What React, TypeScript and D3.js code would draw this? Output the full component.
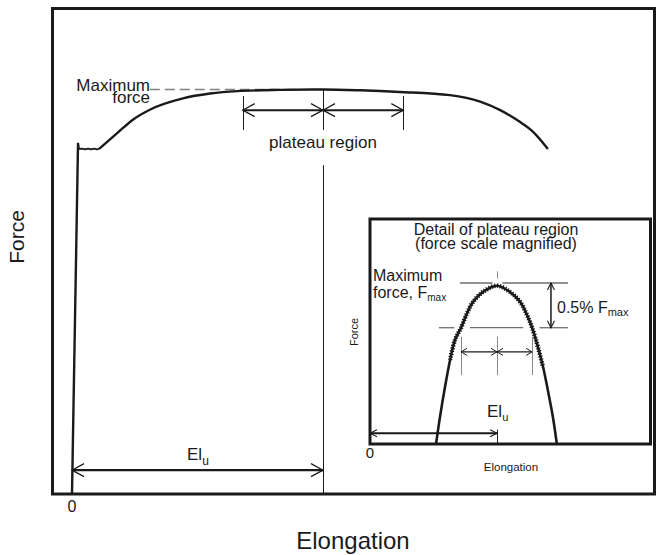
import React from 'react';
import * as d3 from 'd3';

// ---------- main diagram data (elongation units, force % of Fmax) ----------
const elasticLine: [number, number][] = [[0, 0], [1.2, 86.8]];
const yieldSerration: [number, number][] = [
  [1.2, 86.8], [1.4, 85.3], [2.0, 85.4], [2.6, 85.2], [3.2, 85.4],
  [3.8, 85.2], [4.4, 85.4], [5.0, 85.2], [5.4, 85.3],
];
const hardeningCurve: [number, number][] = [
  [5.4, 85.3], [9.0, 89.2], [12.2, 92.6], [15.5, 95.0], [22.1, 97.8],
  [27.5, 99.0], [32.9, 99.6], [41.4, 99.9], [50, 100], [57.4, 99.8],
  [65.3, 99.4], [75.3, 98.6], [81.3, 97.0], [85.3, 94.9], [89.2, 92.0],
  [91.8, 89.6], [94.8, 85.3],
];
const maxForce = 100;
const dashedMaxSpan: [number, number] = [15.5, 45];
const elongationAtMax = 50;
const plateauBounds: [number, number] = [34, 66];
const plateauTickForce: [number, number] = [98.4, 90.0];
const plateauArrowForce = 94.9;
const elULineTop = 81.3;
const elUArrowForce = 5.9;

// ---------- inset (detail) data ----------
const detailCurve: [number, number][] = [
  [23.5, 98.2], [24.9, 98.5], [26.7, 98.84], [28.5, 99.14], [30.2, 99.36],
  [32.4, 99.5], [34.5, 99.66], [36.7, 99.79], [40.2, 99.9], [45.2, 99.97],
  [49.8, 99.9], [53.4, 99.79], [55.9, 99.64], [57.7, 99.5], [59.8, 99.28],
  [61.6, 99.06], [63.3, 98.8], [65.1, 98.5], [66.5, 98.2],
];
const detailNoisyPart: [number, number][] = [
  [28.5, 99.14], [30.2, 99.36], [32.4, 99.5], [34.5, 99.66], [36.7, 99.79],
  [40.2, 99.9], [45.2, 99.97], [49.8, 99.9], [53.4, 99.79], [55.9, 99.64],
  [57.7, 99.5], [59.8, 99.28], [61.6, 99.06],
];
const detailElU = 45.2;
const detailFmax = 100;
const detailHalfPct = 99.5;
const detailBand: [number, number] = [32.4, 57.7];
const fmaxLineSegs: [number, number][] = [[32, 43.6], [47.1, 70.5]];
const halfLineSegs: [number, number][] = [[24.5, 30.0], [35.6, 54.5], [60.3, 70.5]];
const bandLineForce: [number, number] = [99.4, 98.97];
const bandArrowForce = 99.23;
const peakTickForce: [number, number] = [100.13, 100.05];
const elUTickForce: [number, number] = [98.36, 98.2];
const detailElUArrowForce = 98.32;
const dimArrowX = 64.4;

const FONT = '"Liberation Sans", Arial, Helvetica, sans-serif';
const INK = '#1a1a1a';

function arrow(x1: number, y1: number, x2: number, y2: number, len: number, half: number) {
  const dx = x2 - x1, dy = y2 - y1;
  const L = Math.hypot(dx, dy);
  const ux = dx / L, uy = dy / L;
  const px = -uy, py = ux;
  const head = (tx: number, ty: number, sx: number, sy: number) =>
    `M${tx + sx * len + px * half},${ty + sy * len + py * half}L${tx},${ty}L${tx + sx * len - px * half},${ty + sy * len - py * half}`;
  return {
    line: `M${x1},${y1}L${x2},${y2}`,
    heads: head(x1, y1, ux, uy) + head(x2, y2, -ux, -uy),
  };
}

function Arrow({ a, w, hw }: { a: { line: string; heads: string }; w: number; hw: number }) {
  return (
    <g fill="none" stroke={INK}>
      <path d={a.line} strokeWidth={w} />
      <path d={a.heads} strokeWidth={hw} />
    </g>
  );
}

export default function App() {
  const x = d3.scaleLinear().domain([0, 100]).range([72, 574]);
  const y = d3.scaleLinear().domain([0, 100]).range([494, 89.5]);
  const ix = d3.scaleLinear().domain([0, 100]).range([370, 651]);
  const iy = d3.scaleLinear().domain([98.2, 100]).range([444, 283]);

  const lin = d3.line<[number, number]>().x(d => x(d[0])).y(d => y(d[1]));
  const smooth = d3.line<[number, number]>().x(d => x(d[0])).y(d => y(d[1])).curve(d3.curveMonotoneX);
  const iSmooth = d3.line<[number, number]>().x(d => ix(d[0])).y(d => iy(d[1])).curve(d3.curveCatmullRom);

  const plA1 = arrow(x(plateauBounds[0]), y(plateauArrowForce), x(elongationAtMax), y(plateauArrowForce), 12, 6.5);
  const plA2 = arrow(x(elongationAtMax), y(plateauArrowForce), x(plateauBounds[1]), y(plateauArrowForce), 12, 6.5);
  const elA = arrow(x(0), y(elUArrowForce), x(elongationAtMax), y(elUArrowForce), 12, 6.5);

  const bA1 = arrow(ix(detailBand[0]), iy(bandArrowForce), ix(detailElU), iy(bandArrowForce), 6, 3.5);
  const bA2 = arrow(ix(detailElU), iy(bandArrowForce), ix(detailBand[1]), iy(bandArrowForce), 6, 3.5);
  const vA = arrow(ix(dimArrowX), iy(detailFmax), ix(dimArrowX), iy(detailHalfPct), 7, 3.5);
  const ieA = arrow(ix(0), iy(detailElUArrowForce), ix(detailElU), iy(detailElUArrowForce), 7, 3.5);

  const vx = (v: number) => Math.round(x(v)) + 0.5;
  const ivx = (v: number) => Math.round(ix(v)) + 0.5;

  return (
    <svg width={656} height={555} style={{ position: 'absolute', left: 0, top: 0, background: '#fff' }}
      fontFamily={FONT}>
      {/* main frame */}
      <rect x={52.5} y={8.5} width={602} height={485.5} fill="#fff" stroke={INK} strokeWidth={3} />

      {/* dashed maximum force line */}
      <line x1={x(dashedMaxSpan[0])} x2={x(dashedMaxSpan[1])} y1={y(maxForce)} y2={y(maxForce)}
        stroke="#808080" strokeWidth={1.6} strokeDasharray="10,5" />

      {/* force-elongation curve */}
      <g fill="none" stroke={INK} strokeWidth={2.4} strokeLinejoin="round">
        <path d={lin(elasticLine) || ''} />
        <path d={lin(yieldSerration) || ''} strokeWidth={1.8} />
        <path d={smooth(hardeningCurve) || ''} />
      </g>

      {/* plateau ticks and arrows */}
      <g stroke={INK} strokeWidth={1}>
        <line x1={vx(plateauBounds[0])} x2={vx(plateauBounds[0])} y1={y(plateauTickForce[0])} y2={y(plateauTickForce[1])} />
        <line x1={vx(plateauBounds[1])} x2={vx(plateauBounds[1])} y1={y(plateauTickForce[0])} y2={y(plateauTickForce[1])} />
        <line x1={vx(elongationAtMax)} x2={vx(elongationAtMax)} y1={y(maxForce)} y2={y(plateauTickForce[1])} />
        <line x1={vx(elongationAtMax)} x2={vx(elongationAtMax)} y1={y(elULineTop)} y2={y(0)} />
      </g>
      <Arrow a={plA1} w={2} hw={1.2} />
      <Arrow a={plA2} w={2} hw={1.2} />
      <Arrow a={elA} w={2.2} hw={1.2} />

      {/* main texts */}
      <g fill={INK}>
        <text x={150} y={91} fontSize={17} textAnchor="end">Maximum</text>
        <text x={150} y={103} fontSize={17} textAnchor="end">force</text>
        <text x={x(elongationAtMax)} y={148} fontSize={17} textAnchor="middle">plateau region</text>
        <text x={187} y={460} fontSize={17}>El<tspan fontSize={12} dy={5}>u</tspan></text>
        <text x={x(0)} y={512} fontSize={16} textAnchor="middle">0</text>
        <text transform="translate(24,237) rotate(-90)" fontSize={21} textAnchor="middle">Force</text>
        <text x={353} y={549} fontSize={24} textAnchor="middle">Elongation</text>
      </g>

      {/* inset */}
      <rect x={370} y={219} width={280.5} height={225} fill="#fff" stroke={INK} strokeWidth={3} />
      <g fill={INK}>
        <text x={496} y={235} fontSize={16} textAnchor="middle">Detail of plateau region</text>
        <text x={496} y={249} fontSize={16} textAnchor="middle">(force scale magnified)</text>
      </g>

      {/* inset reference lines */}
      <g stroke="#6e6e6e" strokeWidth={1.3}>
        {fmaxLineSegs.map((s, i) => (
          <line key={'f' + i} x1={ix(s[0])} x2={ix(s[1])} y1={iy(detailFmax)} y2={iy(detailFmax)} />
        ))}
        {halfLineSegs.map((s, i) => (
          <line key={'h' + i} x1={ix(s[0])} x2={ix(s[1])} y1={iy(detailHalfPct)} y2={iy(detailHalfPct)} />
        ))}
      </g>
      <g stroke="#8a8a8a" strokeWidth={1}>
        <line x1={ivx(detailBand[0])} x2={ivx(detailBand[0])} y1={iy(bandLineForce[0])} y2={iy(bandLineForce[1])} />
        <line x1={ivx(detailBand[1])} x2={ivx(detailBand[1])} y1={iy(bandLineForce[0])} y2={iy(bandLineForce[1])} />
        <line x1={ivx(detailElU)} x2={ivx(detailElU)} y1={iy(bandLineForce[0])} y2={iy(bandLineForce[1])} />
        <line x1={ivx(detailElU)} x2={ivx(detailElU)} y1={iy(peakTickForce[0])} y2={iy(peakTickForce[1])} />
        <line x1={ivx(detailElU)} x2={ivx(detailElU)} y1={iy(elUTickForce[0])} y2={iy(elUTickForce[1])} stroke={INK} />
      </g>

      {/* inset curve */}
      <path d={iSmooth(detailCurve) || ''} fill="none" stroke={INK} strokeWidth={2.6} strokeLinejoin="round" />
      <path d={iSmooth(detailNoisyPart) || ''} fill="none" stroke={INK} strokeWidth={4.6}
        strokeDasharray="1.2,1.6" strokeLinejoin="round" />

      <Arrow a={bA1} w={1.3} hw={1} />
      <Arrow a={bA2} w={1.3} hw={1} />
      <Arrow a={vA} w={1.5} hw={1.1} />
      <Arrow a={ieA} w={2} hw={1.1} />

      <g fill={INK}>
        <text x={373} y={281} fontSize={16}>Maximum</text>
        <text x={373} y={298} fontSize={16}>force, F<tspan fontSize={10} dy={3}>max</tspan></text>
        <text x={557} y={313} fontSize={16}>0.5% F<tspan fontSize={11} dy={3}>max</tspan></text>
        <text x={487} y={417} fontSize={17}>El<tspan fontSize={11} dy={4}>u</tspan></text>
        <text x={ix(0)} y={458} fontSize={15} textAnchor="middle">0</text>
        <text transform="translate(358,332) rotate(-90)" fontSize={11} textAnchor="middle">Force</text>
        <text x={511} y={471} fontSize={11.5} textAnchor="middle">Elongation</text>
      </g>
    </svg>
  );
}
